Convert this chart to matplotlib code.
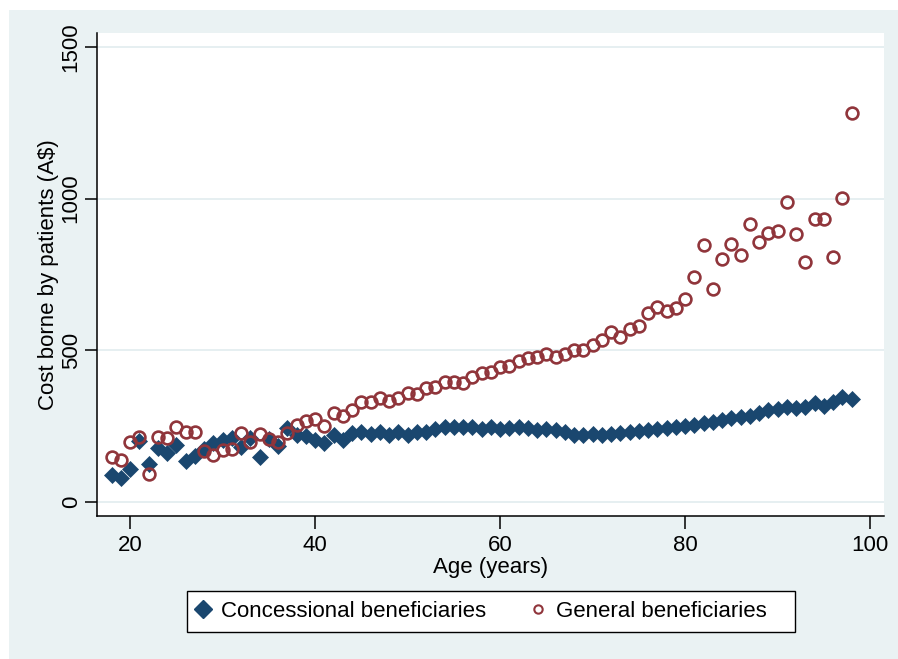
import matplotlib.pyplot as plt
from matplotlib.lines import Line2D
from matplotlib.patches import Rectangle
import numpy as np

plt.rcParams['font.family'] = ['Liberation Sans', 'DejaVu Sans']

age = np.arange(18, 99)

concessional = [90, 78, 110, 200, 125, 178, 162, 188, 135, 152,
                175, 195, 205, 212, 180, 212, 148, 208, 185, 245,
                220, 218, 205, 195, 222, 205, 228, 230, 225, 230,
                220, 230, 222, 230, 232, 242, 248, 248, 246, 246,
                242, 246, 240, 244, 248, 244, 238, 240, 236, 232,
                222, 220, 224, 222, 225, 228, 232, 234, 238, 242,
                245, 248, 252, 255, 260, 264, 270, 278, 280, 285,
                292, 305, 306, 312, 310, 312, 325, 318, 330, 345,
                340]

general = [148, 138, 198, 214, 94, 214, 210, 247, 231, 231,
           168, 155, 170, 175, 227, 198, 224, 208, 198, 227,
           254, 268, 275, 251, 293, 284, 303, 330, 330, 343,
           333, 343, 359, 356, 376, 379, 396, 396, 392, 412,
           425, 429, 445, 448, 466, 476, 479, 488, 478, 488,
           501, 501, 518, 534, 560, 544, 570, 580, 623, 643,
           630, 640, 669, 742, 847, 702, 801, 851, 814, 917,
           857, 887, 894, 989, 884, 791, 933, 933, 808, 1002,
           1283]

labels = ['Concessional beneficiaries', 'General beneficiaries   ']
navy = '#1a476f'
maroon = '#90353b'
bg = '#eaf2f3'

fig = plt.figure(figsize=(8.98, 6.59), dpi=100, facecolor='white')
# grey graph region (Stata style)
fig.patches.append(Rectangle((9 / 898, 0), 1, 1 - 10 / 659, transform=fig.transFigure,
                             facecolor=bg, edgecolor='none', zorder=-10))

ax = fig.add_axes([97 / 898, 1 - 516 / 659, (884 - 97) / 898, (516 - 33) / 659])
ax.set_facecolor('white')

ax.plot(age, concessional, linestyle='none', marker='D', markersize=8,
        color=navy, markeredgecolor=navy, markeredgewidth=0.5, zorder=3)
ax.plot(age, general, linestyle='none', marker='o', markersize=8.5,
        markerfacecolor='none', markeredgecolor=maroon, markeredgewidth=1.9, zorder=4)

ax.set_xlim(16.43, 101.5)
ax.set_ylim(-46, 1546)
ax.set_xticks([20, 40, 60, 80, 100])
ax.set_yticks([0, 500, 1000, 1500])
ax.grid(axis='y', color='#e4eef0', linewidth=1.3, zorder=0)
ax.set_axisbelow(True)

for s in ['top', 'right']:
    ax.spines[s].set_visible(False)
for s in ['left', 'bottom']:
    ax.spines[s].set_linewidth(1.1)

ax.tick_params(axis='both', length=9, width=1.1, labelsize=16)
ax.tick_params(axis='x', pad=4.5)
ax.tick_params(axis='y', pad=2)
plt.setp(ax.get_yticklabels(), rotation=90, va='center')

ax.set_xlabel('Age (years)', fontsize=16, labelpad=1)
ax.set_ylabel('Cost borne by patients (A$)', fontsize=16, labelpad=1)

handles = [Line2D([], [], linestyle='none', marker='D', markersize=9, color=navy),
           Line2D([], [], linestyle='none', marker='o', markersize=6,
                  markerfacecolor='none', markeredgecolor=maroon, markeredgewidth=1.5)]
leg = fig.legend(handles, labels, loc='center', bbox_to_anchor=(491 / 898, 1 - 611.5 / 659),
                 ncol=2, fontsize=16, frameon=True, fancybox=False, framealpha=1,
                 edgecolor='black', handlelength=0.55, handletextpad=0.55,
                 columnspacing=2.05, borderpad=0.45)
leg.get_frame().set_linewidth(1.0)

fig.savefig('out.png', dpi=100, facecolor='white')
